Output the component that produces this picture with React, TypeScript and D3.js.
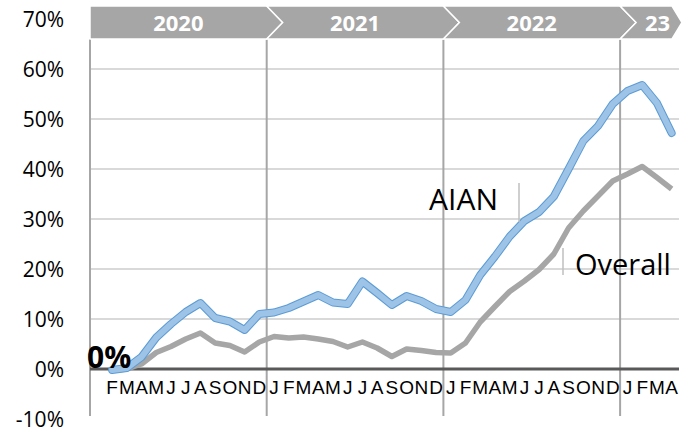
import React, { useRef, useEffect } from 'react';
import * as d3 from 'd3';

const months = [
  '2020-01', '2020-02', '2020-03', '2020-04', '2020-05', '2020-06', '2020-07', '2020-08', '2020-09', '2020-10', '2020-11', '2020-12',
  '2021-01', '2021-02', '2021-03', '2021-04', '2021-05', '2021-06', '2021-07', '2021-08', '2021-09', '2021-10', '2021-11', '2021-12',
  '2022-01', '2022-02', '2022-03', '2022-04', '2022-05', '2022-06', '2022-07', '2022-08', '2022-09', '2022-10', '2022-11', '2022-12',
  '2023-01', '2023-02', '2023-03', '2023-04',
];
const monthLabels = [
  '', 'F', 'M', 'A', 'M', 'J', 'J', 'A', 'S', 'O', 'N', 'D',
  'J', 'F', 'M', 'A', 'M', 'J', 'J', 'A', 'S', 'O', 'N', 'D',
  'J', 'F', 'M', 'A', 'M', 'J', 'J', 'A', 'S', 'O', 'N', 'D',
  'J', 'F', 'M', 'A',
];
const yearLabels = ['2020', '2021', '2022', '23'];
const yearStarts = ['2020-01', '2021-01', '2022-01', '2023-01'];

// Feb 2020 .. Apr 2023, % change
const seriesMonths = months.slice(1);
const aian = [
  -0.2, 0.2, 2.4, 6.3, 9.0, 11.4, 13.2, 10.2, 9.5, 7.8, 11.0,
  11.3, 12.2, 13.5, 14.8, 13.3, 13.0, 17.5, 15.2, 12.8, 14.6, 13.6, 12.0,
  11.4, 13.8, 18.8, 22.5, 26.5, 29.6, 31.4, 34.5, 40.0, 45.6, 48.6, 53.0,
  55.6, 56.8, 53.2, 47.2,
];
const overall = [
  -0.3, 0.0, 1.0, 3.3, 4.5, 6.0, 7.2, 5.2, 4.7, 3.4, 5.4,
  6.5, 6.2, 6.4, 6.0, 5.5, 4.4, 5.4, 4.2, 2.5, 4.0, 3.7, 3.3,
  3.2, 5.2, 9.4, 12.5, 15.5, 17.6, 19.9, 23.0, 28.2, 31.6, 34.6, 37.6,
  39.0, 40.5, 38.3, 36.0,
];
const yTicks = [-10, 0, 10, 20, 30, 40, 50, 60, 70];

const W = 682;
const H = 432;
const left = 90;
const right = 679;

const App = () => {
  const svgRef = useRef<SVGSVGElement>(null);

  useEffect(() => {
    const svg = d3.select(svgRef.current);
    svg.selectAll('*').remove();

    const x = d3.scaleBand().domain(months).range([left, right]).padding(0);
    const y = d3.scaleLinear().domain([-10, 70]).range([419, 19]);
    const cx = (m: string) => (x(m) as number) + x.bandwidth() / 2;

    // gridlines
    svg.append('g')
      .selectAll('line')
      .data(yTicks.filter(t => t > 0 && t < 70))
      .join('line')
      .attr('x1', left).attr('x2', right)
      .attr('y1', d => y(d)).attr('y2', d => y(d))
      .attr('stroke', '#d9d9d9').attr('stroke-width', 2);

    // year separators
    const bounds = yearStarts.map(m => x(m) as number);
    svg.append('g')
      .selectAll('line')
      .data(bounds)
      .join('line')
      .attr('x1', d => d).attr('x2', d => d)
      .attr('y1', 39).attr('y2', 416)
      .attr('stroke', '#a6a6a6').attr('stroke-width', 2);

    // zero axis
    svg.append('line')
      .attr('x1', left).attr('x2', right)
      .attr('y1', y(0)).attr('y2', y(0))
      .attr('stroke', '#595959').attr('stroke-width', 3);

    // y axis labels
    const yAxis = d3.axisLeft(y).tickValues(yTicks).tickSize(0).tickPadding(0)
      .tickFormat(d => `${d}%`);
    const ya = svg.append('g').attr('transform', 'translate(64,0)').call(yAxis);
    ya.select('.domain').remove();
    ya.selectAll('text')
      .attr('font-family', '"Open Sans", sans-serif')
      .attr('font-size', 21)
      .attr('fill', '#000')
      .attr('dy', '0.36em');

    // month labels
    const xAxis = d3.axisBottom(x).tickSize(0).tickPadding(0)
      .tickFormat((d, i) => monthLabels[i]);
    const xa = svg.append('g').attr('transform', 'translate(0,380)').call(xAxis);
    xa.select('.domain').remove();
    xa.selectAll('text')
      .attr('font-family', '"Liberation Sans", Arial, sans-serif')
      .attr('font-size', 19)
      .attr('fill', '#000')
      .attr('dy', '0.72em');

    // year header chevrons
    const top = 6, bot = 39, mid = (top + bot) / 2, d = 16;
    const ends = [...bounds.slice(1), right];
    yearLabels.forEach((lab, i) => {
      const x0 = bounds[i];
      const last = i === yearLabels.length - 1;
      const x1 = last ? ends[i] - 7 : ends[i];
      const dp = last ? 10 : d;
      const pts: [number, number][] = i === 0
        ? [[x0, top], [x1, top], [x1 + dp, mid], [x1, bot], [x0, bot]]
        : [[x0, top], [x1, top], [x1 + dp, mid], [x1, bot], [x0, bot], [x0 + d, mid]];
      svg.append('path')
        .attr('d', d3.line()(pts) + 'Z')
        .attr('fill', '#a6a6a6')
        .attr('stroke', '#ffffff').attr('stroke-width', 1.5);
      const tx = last ? (x0 + d + ends[i]) / 2 : (x0 + ends[i]) / 2;
      svg.append('text')
        .attr('x', tx).attr('y', mid + 8)
        .attr('text-anchor', 'middle')
        .attr('font-family', '"Open Sans", sans-serif')
        .attr('font-weight', 'bold')
        .attr('font-size', 22)
        .attr('fill', '#ffffff')
        .text(lab);
    });

    const ln = d3.line<number>()
      .x((v, i) => cx(seriesMonths[i]))
      .y(v => y(v));

    svg.append('path')
      .attr('d', ln(overall))
      .attr('fill', 'none')
      .attr('stroke', '#a6a6a6').attr('stroke-width', 5.5)
      .attr('stroke-linejoin', 'round');

    svg.append('path')
      .attr('d', ln(aian))
      .attr('fill', 'none')
      .attr('stroke', '#5b9bd5').attr('stroke-width', 8)
      .attr('stroke-linejoin', 'round').attr('stroke-linecap', 'round');
    svg.append('path')
      .attr('d', ln(aian))
      .attr('fill', 'none')
      .attr('stroke', '#9dc3e6').attr('stroke-width', 6)
      .attr('stroke-linejoin', 'round').attr('stroke-linecap', 'round');

    // annotations
    const ann = svg.append('g').attr('font-family', '"Open Sans", sans-serif').attr('fill', '#000');
    svg.append('line').attr('x1', 519).attr('x2', 519).attr('y1', 183).attr('y2', 222)
      .attr('stroke', '#bfbfbf').attr('stroke-width', 1.5);
    svg.append('line').attr('x1', 563).attr('x2', 563).attr('y1', 248).attr('y2', 275)
      .attr('stroke', '#bfbfbf').attr('stroke-width', 1.5);
    ann.append('text').attr('x', 498).attr('y', 210).attr('text-anchor', 'end')
      .attr('font-size', 30).text('AIAN');
    ann.append('text').attr('x', 575).attr('y', 275)
      .attr('font-size', 29).text('Overall');
    ann.append('text').attr('x', 87).attr('y', 368)
      .attr('font-size', 30).attr('font-weight', 'bold').text('0%');
  }, []);

  return (
    <svg ref={svgRef} width={W} height={H}
      style={{ position: 'absolute', left: 0, top: 0, background: '#fff' }} />
  );
};

export default App;
